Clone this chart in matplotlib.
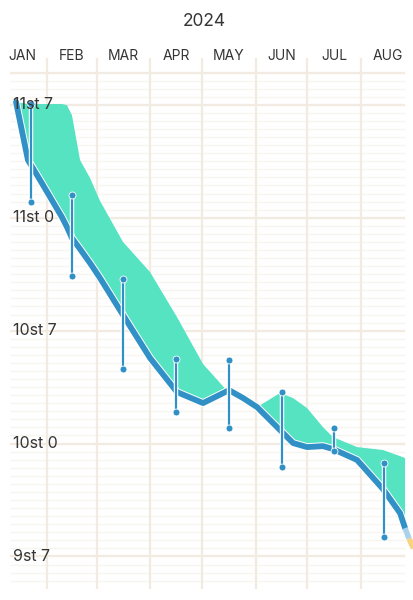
import numpy as np
import matplotlib
matplotlib.use("Agg")
import matplotlib.pyplot as plt
import matplotlib.patheffects as pe

plt.rcParams["font.family"] = ["Inter", "DejaVu Sans"]

YEAR = "2024"
MONTHS = ["JAN", "FEB", "MAR", "APR", "MAY", "JUN", "JUL", "AUG"]
MONTH_DAYS = [31, 29, 31, 30, 31, 30, 31, 31]

# weight in lb, x in day-of-year (0 = 1 Jan)
TREND_DAY = [13.1, 20.0, 27.0, 39.7, 42.6, 45.5, 50.2, 56.0, 61.8, 75.1,
             90.8, 106.4, 121.5, 136.6, 144.7, 152.8, 166.1, 173.7, 181.8,
             191.0, 196.8, 210.8, 225.8, 235.7, 238.6]
TREND_LB = [161.17, 157.58, 156.34, 154.04, 153.43, 152.74, 152.06, 151.19,
            150.26, 147.97, 145.30, 143.19, 142.51, 143.31, 142.82, 142.26,
            140.84, 140.03, 139.78, 139.84, 139.66, 138.98, 137.18, 135.69,
            134.76]
UPPER_LB = [161.17, 161.05, 161.05, 161.05, 160.98, 160.36, 157.58, 156.46,
            155.04, 152.50, 150.63, 147.84, 144.93, 143.13, 142.63, 142.26,
            143.13, 142.82, 142.20, 141.02, 140.40, 139.78, 139.60, 139.22,
            139.10]

TAIL_DAY = [238.6, 240.9, 243.5]
TAIL_LB = [134.76, 134.10, 133.50]

RANGE_DAY = [21.8, 45.5, 75.1, 105.8, 136.6, 167.3, 197.4, 226.4]
RANGE_HI = [161.05, 155.39, 150.20, 145.24, 145.18, 143.19, 140.96, 138.79]
RANGE_LO = [154.97, 150.38, 144.62, 141.95, 140.96, 138.54, 139.54, 134.20]

LABEL_LB = [161, 154, 147, 140, 133]
LABELS = ["11st 7", "11st 0", "10st 7", "10st 0", "9st 7"]

BLUE = "#3191c6"
TEAL = "#55e3c1"
GRID = "#f2ebe1"
GRID_MINOR = "#f8f5f0"
TEXT = "#353535"

fig = plt.figure(figsize=(4.13, 6.0), dpi=100)
ax = fig.add_axes([0, 0, 1, 1])
ax.set_xlim(3.8, 243.2)
ax.set_ylim(130.3, 167.5)
ax.axis("off")

# grid
minor = np.arange(131.5, 163.01, 0.5)
ax.hlines(minor, 9.6, 238.6, color=GRID_MINOR, lw=1.0, zorder=0)
ax.hlines(LABEL_LB + [163], 9.6, 238.6, color=GRID, lw=1.6, zorder=0)
bounds = np.cumsum(MONTH_DAYS)
ax.vlines(bounds[:-1], 131.0, 163.9, color=GRID, lw=1.6, zorder=0)

starts = np.concatenate([[0], bounds[:-1]])
for i, (m, s, n) in enumerate(zip(MONTHS, starts, MONTH_DAYS)):
    cx = s + n / 2 + (1.5 if i == 0 else 0)
    ax.text(cx, 164.0, m, ha="center", va="center", fontsize=10,
            color=TEXT)
ax.text(122, 166.15, YEAR, ha="center", va="center", fontsize=12.5,
        color=TEXT)

# band between trend and upper
td = np.array(TREND_DAY)
tl = np.array(TREND_LB)
ul = np.array(UPPER_LB)
ax.fill_between(td, tl, ul, where=ul >= tl, interpolate=True, color=TEAL,
                lw=0, zorder=1)
ax.fill_between(td, tl, ul, where=ul < tl, interpolate=True, color="#f6b8c8",
                lw=0, zorder=1)

# monthly ranges
stroke = [pe.Stroke(linewidth=3.2, foreground="white"), pe.Normal()]
for d, hi, lo in zip(RANGE_DAY, RANGE_HI, RANGE_LO):
    ax.plot([d, d], [lo, hi], color=BLUE, lw=1.6, zorder=3,
            path_effects=stroke, solid_capstyle="butt")
    ax.plot([d, d], [lo, hi], "o", color=BLUE, ms=5, mec="white", mew=0.6,
            zorder=4)

# trend line
ax.plot(td, tl, color=BLUE, lw=4.2, zorder=2, solid_joinstyle="round",
        solid_capstyle="round",
        path_effects=[pe.Stroke(linewidth=5.6, foreground="white"),
                      pe.Normal()])
ax.plot(TAIL_DAY[:2], TAIL_LB[:2], color="#a9d3ea", lw=4.0, zorder=2,
        solid_capstyle="butt")
ax.plot(TAIL_DAY[1:], TAIL_LB[1:], color="#f9d382", lw=4.0, zorder=2,
        solid_capstyle="butt")

for v, lab in zip(LABEL_LB, LABELS):
    ax.text(11.3, v, lab, ha="left", va="center", fontsize=11.5, color=TEXT,
            zorder=5)

fig.savefig("out.png", dpi=100, facecolor="white")
